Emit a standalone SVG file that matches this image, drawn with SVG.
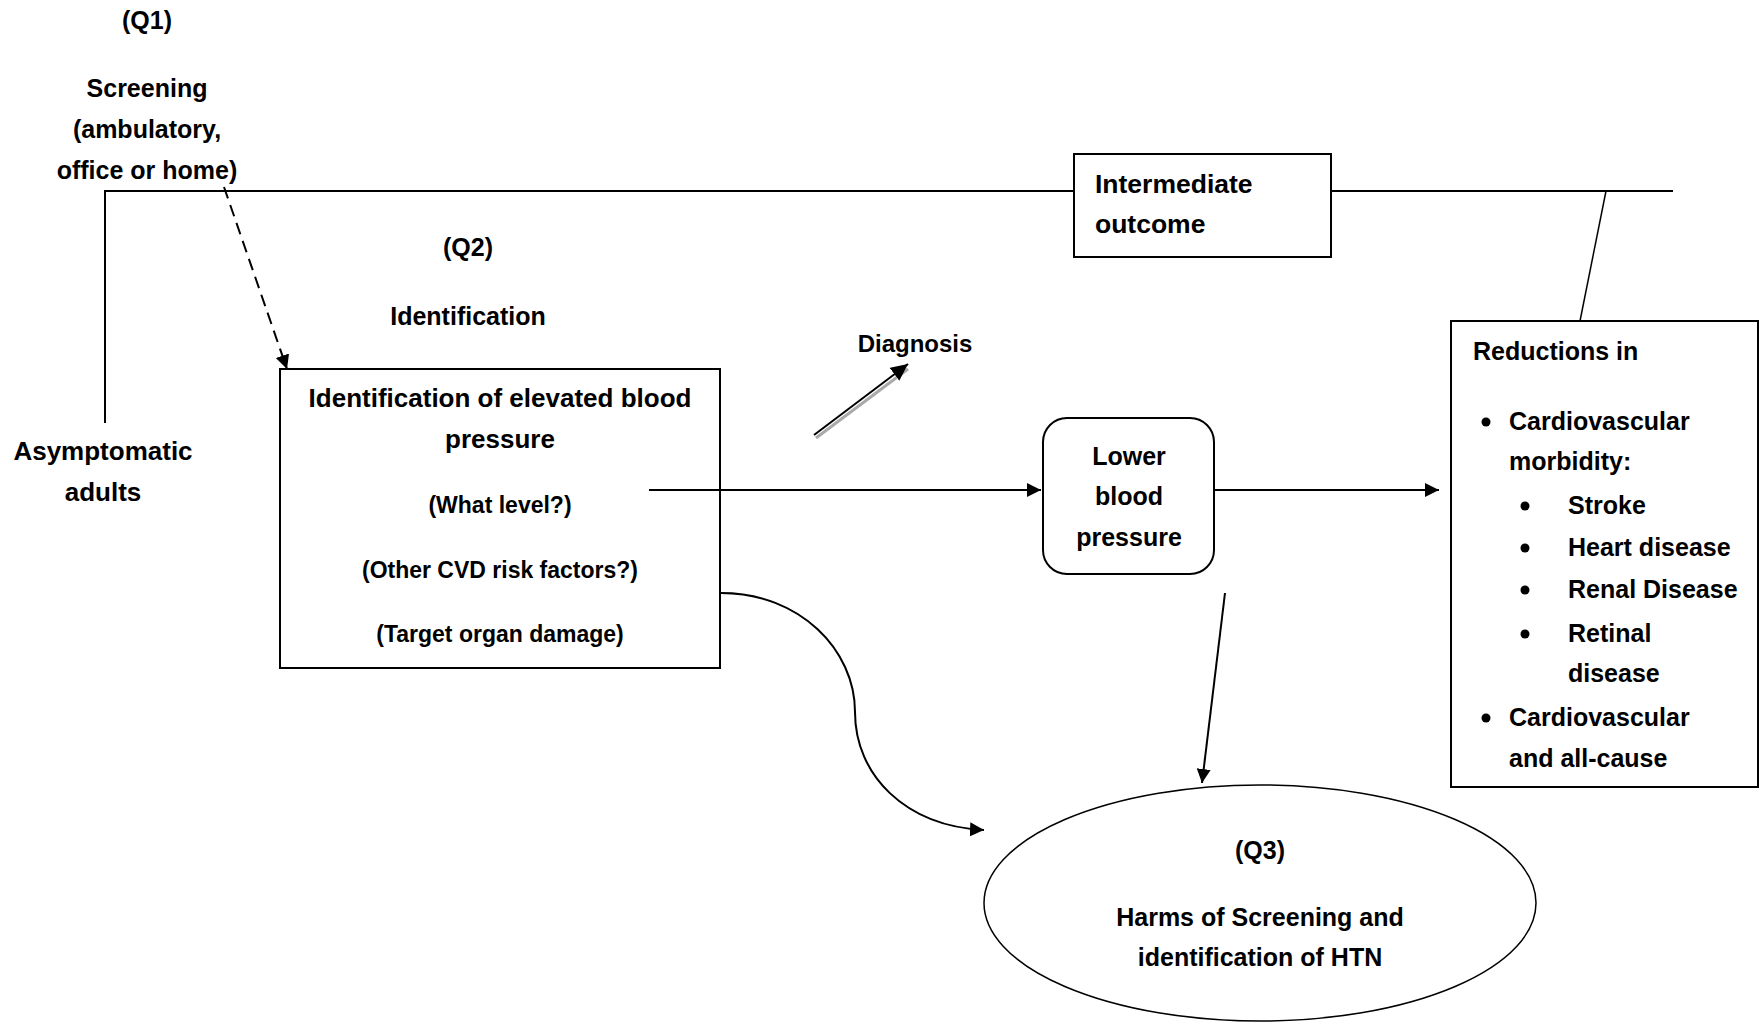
<svg xmlns="http://www.w3.org/2000/svg" width="1764" height="1023" viewBox="0 0 1764 1023">
<style>
text{font-family:"Liberation Sans",Arial,sans-serif;font-weight:bold;font-size:25px;fill:#000}
.c{text-anchor:middle}
.s26{font-size:26px}
.s265{font-size:26.5px}
.s23{font-size:23px}
.s24{font-size:24px}
.box{fill:none;stroke:#000;stroke-width:2}
.ln{fill:none;stroke:#000;stroke-width:2}
.thin{fill:none;stroke:#000;stroke-width:1.5}
</style>
<defs>
<marker id="ah" markerUnits="userSpaceOnUse" markerWidth="15" markerHeight="15" refX="14" refY="7" orient="auto">
<path d="M0,0 L14,7 L0,14 z" fill="#000"/>
</marker>
<marker id="ahb" markerUnits="userSpaceOnUse" markerWidth="18" markerHeight="18" refX="17" refY="8" orient="auto">
<path d="M0,0 L17,8 L0,16 z" fill="#000"/>
</marker>
</defs>
<rect width="1764" height="1023" fill="#fff"/>
<g id="connectors">
<path class="ln" d="M105,423 V191 H1074"/>
<path class="ln" d="M1331,191 H1673"/>
<path class="thin" d="M1606,191 L1580,321"/>
<path class="ln" d="M224,187 L287,369" stroke-dasharray="12 7" marker-end="url(#ah)"/>
<path d="M816,438 L908,369" stroke="#aaa" stroke-width="3" fill="none"/>
<path class="ln" d="M814,435 L908,364" stroke-width="2.5" marker-end="url(#ahb)"/>
<path class="ln" d="M649,490 H1041" stroke-width="2.5" marker-end="url(#ah)"/>
<path class="ln" d="M1214,490 H1439" marker-end="url(#ah)"/>
<path class="ln" d="M1225,593 L1202,783" stroke-width="2.5" marker-end="url(#ah)"/>
<path class="ln" d="M721,593 C800,593 855,650 855,712 C855,775 905,826 984,830" marker-end="url(#ah)"/>
</g>
<g id="q1">
<text class="c" x="147" y="29">(Q1)</text>
<text class="c" x="147" y="97">Screening</text>
<text class="c" x="147" y="138">(ambulatory,</text>
<text class="c" x="147" y="179">office or home)</text>
</g>
<g id="asymptomatic">
<text class="c s26" x="103" y="460">Asymptomatic</text>
<text class="c s26" x="103" y="501">adults</text>
</g>
<g id="q2">
<text class="c" x="468" y="256">(Q2)</text>
<text class="c" x="468" y="325">Identification</text>
</g>
<g id="identification">
<rect class="box" x="280" y="369" width="440" height="299"/>
<text class="c s26" x="500" y="407">Identification of elevated blood</text>
<text class="c s26" x="500" y="448">pressure</text>
<text class="c s23" x="500" y="513">(What level?)</text>
<text class="c s23" x="500" y="578">(Other CVD risk factors?)</text>
<text class="c s23" x="500" y="642">(Target organ damage)</text>
</g>
<g id="diagnosis">
<text class="c s24" x="915" y="352">Diagnosis</text>
</g>
<g id="intermediate">
<rect class="box" x="1074" y="154" width="257" height="103"/>
<text class="s265" x="1095" y="193">Intermediate</text>
<text class="s265" x="1095" y="233">outcome</text>
</g>
<g id="lowerbp">
<rect class="box" x="1043" y="418" width="171" height="156" rx="24"/>
<text class="c" x="1129" y="465">Lower</text>
<text class="c" x="1129" y="505">blood</text>
<text class="c" x="1129" y="546">pressure</text>
</g>
<g id="reductions">
<rect class="box" x="1451" y="321" width="307" height="466"/>
<text x="1473" y="360">Reductions in</text>
<circle cx="1486" cy="422" r="4.5"/>
<text x="1509" y="430">Cardiovascular</text>
<text x="1509" y="470">morbidity:</text>
<circle cx="1525" cy="506" r="4.5"/>
<text x="1568" y="514">Stroke</text>
<circle cx="1525" cy="548" r="4.5"/>
<text x="1568" y="556">Heart disease</text>
<circle cx="1525" cy="590" r="4.5"/>
<text x="1568" y="598">Renal Disease</text>
<circle cx="1525" cy="634" r="4.5"/>
<text x="1568" y="642">Retinal</text>
<text x="1568" y="682">disease</text>
<circle cx="1486" cy="718" r="4.5"/>
<text x="1509" y="726">Cardiovascular</text>
<text x="1509" y="767">and all-cause</text>
</g>
<g id="harms">
<ellipse cx="1260" cy="903" rx="276" ry="118" fill="none" stroke="#000" stroke-width="1.5"/>
<text class="c" x="1260" y="859">(Q3)</text>
<text class="c" x="1260" y="926">Harms of Screening and</text>
<text class="c" x="1260" y="966">identification of HTN</text>
</g>
</svg>
